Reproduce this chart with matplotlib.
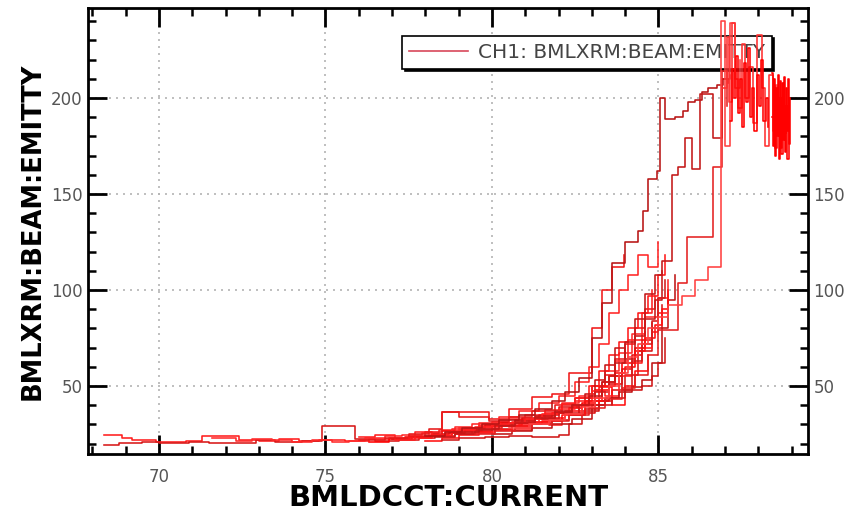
import matplotlib
matplotlib.use("Agg")
import matplotlib.pyplot as plt
from matplotlib.lines import Line2D
from matplotlib.ticker import MultipleLocator

# ---- data: emittance vs. beam current, several passes (step traces) ----
t1_x = [68.35, 68.9, 69.2, 69.9, 70.8, 71.3, 72.4, 73.0, 73.6, 74.2, 74.8, 75.6, 76.3, 76.9, 77.5,
        78.1, 78.6, 79.2, 79.7, 80.3, 80.9, 81.4, 81.9, 82.4, 82.9, 83.3, 83.7, 84.1, 84.5, 84.8]
t1_y = [24.5, 23.0, 22.0, 21.0, 21.5, 24.0, 22.0, 21.5, 22.5, 21.5, 22.0, 21.5, 22.5, 23.0, 23.5,
        24.5, 25.5, 26.5, 28.0, 29.5, 31.0, 33.0, 36.0, 39.5, 44.0, 52.0, 63.0, 74.0, 88.0, 100.0]

t2_x = [68.35, 68.8, 69.5, 70.0, 70.9, 71.5, 71.9, 72.9, 73.5, 74.3, 74.9, 75.9, 76.5, 77.2, 77.8,
        78.3, 78.9, 79.5, 80.0, 80.6, 81.2, 81.8, 82.3, 82.8, 83.2, 83.6, 84.0, 84.4, 84.8, 85.1]
t2_y = [19.5, 20.5, 21.0, 20.5, 21.0, 20.5, 20.5, 22.0, 21.0, 21.5, 29.2, 22.5, 21.5, 22.0, 23.0,
        24.0, 25.0, 26.0, 27.5, 29.0, 30.5, 32.5, 35.0, 38.0, 42.0, 48.0, 56.0, 68.0, 80.0, 92.0]

t3_x = [71.6, 72.3, 72.8, 73.4, 74.0, 74.6, 75.2, 75.7, 76.2, 76.8, 77.3, 77.9, 78.4, 78.9, 79.4,
        80.0, 80.5, 81.0, 81.6, 82.1, 82.6, 83.0, 83.4, 83.8, 84.2, 84.6, 85.0, 85.3]
t3_y = [23.0, 21.5, 22.5, 22.0, 21.0, 22.0, 21.0, 21.5, 23.0, 24.0, 24.5, 25.5, 27.0, 28.5, 30.0,
        31.5, 33.0, 35.0, 37.5, 41.0, 45.0, 50.0, 58.0, 67.0, 77.0, 86.0, 96.0, 105.0]

b1_x = [76.3, 76.9, 77.4, 78.0, 78.5, 79.1, 79.6, 80.2, 80.7, 81.3, 81.8, 82.3, 82.7, 83.1, 83.5,
        83.9, 84.3, 84.6]
b1_y = [21.0, 22.5, 23.5, 24.0, 26.5, 27.0, 29.0, 30.5, 32.5, 34.0, 36.0, 38.5, 41.0, 48.0, 55.0,
        62.0, 70.0, 78.0]

b2_x = [77.0, 77.6, 78.2, 78.7, 79.2, 79.8, 80.3, 80.9, 81.4, 82.0, 82.6, 83.1, 83.5, 83.9, 84.2,
        84.5, 84.8]
b2_y = [22.5, 23.5, 25.0, 25.5, 28.0, 29.5, 31.0, 33.5, 35.0, 39.0, 36.0, 42.0, 51.0, 59.0, 66.0,
        74.0, 83.0]

b3_x = [78.0, 78.5, 79.0, 79.6, 80.1, 80.6, 81.1, 81.7, 82.2, 82.7, 83.2, 83.6, 84.0, 84.3, 84.7]
b3_y = [21.5, 23.0, 24.5, 26.0, 27.0, 29.0, 31.5, 33.5, 37.0, 40.0, 49.5, 40.0, 50.0, 58.0, 66.0]

b4_x = [76.0, 76.5, 77.1, 77.7, 78.2, 78.8, 79.4, 80.0, 80.6, 81.2, 81.7, 82.1]
b4_y = [23.5, 24.5, 22.0, 26.0, 24.0, 27.5, 25.5, 29.0, 27.0, 31.5, 29.5, 33.0]

r1_x = [78.5, 79.0, 79.8, 80.5, 81.2, 82.0, 82.3, 82.7, 83.2, 83.6, 84.0, 84.5, 84.8, 85.0, 85.2]
r1_y = [22.0, 23.0, 23.5, 24.0, 23.5, 24.5, 30.0, 37.0, 40.0, 44.0, 48.0, 50.0, 55.0, 62.0, 75.0]

u1_x = [77.5, 78.0, 78.5, 79.9, 80.5, 81.2, 81.8, 82.3, 82.9, 83.0, 83.3, 83.6, 83.95]
u1_y = [24.0, 26.0, 36.5, 33.0, 38.0, 44.5, 46.0, 57.0, 57.0, 80.0, 100.0, 112.0, 118.0]

u2_x = [79.0, 79.6, 80.2, 80.8, 81.4, 82.0, 82.5, 82.9, 83.2, 83.5, 83.8, 84.1, 84.4, 84.7, 85.0]
u2_y = [28.0, 31.0, 34.0, 37.0, 41.0, 45.0, 52.0, 60.0, 72.0, 88.0, 100.0, 108.0, 118.0, 112.0, 125.0]

l1_x = [76.0, 76.8, 77.5, 78.1, 78.5, 79.0, 79.9, 80.5, 81.2, 81.9, 82.5, 83.0, 83.4, 83.7, 84.0,
        84.3, 84.6, 84.9]
l1_y = [22.0, 23.0, 25.0, 27.5, 36.5, 34.0, 32.0, 34.0, 37.0, 40.0, 44.0, 50.0, 56.0, 64.0, 72.0,
        80.0, 90.0, 97.0]

m1_x = [77.5, 78.2, 78.8, 79.4, 80.0, 80.6, 81.1, 81.6, 82.1, 82.5, 82.9, 83.2, 83.5, 83.8, 84.1,
        84.4, 84.7, 85.0, 85.2]
m1_y = [23.0, 24.5, 26.0, 27.0, 29.0, 31.5, 33.0, 36.0, 40.5, 44.0, 50.0, 58.0, 66.0, 73.0, 80.0,
        88.0, 97.0, 108.0, 118.0]

m2_x = [78.3, 78.9, 79.5, 80.1, 80.7, 81.3, 81.9, 82.4, 82.8, 83.1, 83.4, 83.7, 84.0, 84.3, 84.6,
        84.9, 85.1]
m2_y = [23.5, 25.0, 27.0, 29.5, 32.0, 34.5, 37.0, 40.0, 46.0, 53.0, 61.0, 70.0, 64.0, 76.0, 85.0,
        95.0, 110.0]

m3_x = [79.0, 79.5, 80.0, 80.5, 81.0, 81.5, 82.0, 82.5, 83.0, 83.4, 83.8, 84.2, 84.5, 84.8, 85.0, 85.3]
m3_y = [27.0, 28.5, 30.0, 31.0, 33.0, 35.5, 38.0, 42.0, 47.5, 45.0, 55.0, 62.0, 70.0, 78.0, 88.0, 98.0]

m4_x = [80.0, 80.6, 81.2, 81.8, 82.4, 83.0, 83.4, 83.8, 84.2, 84.5, 84.8, 85.1, 85.3, 85.5]
m4_y = [25.0, 26.5, 28.0, 30.0, 33.0, 40.0, 44.0, 47.0, 49.5, 53.0, 62.0, 80.0, 95.0, 108.0]

m5_x = [80.8, 81.5, 82.1, 82.8, 83.3, 83.7, 84.0, 84.3, 84.6, 84.9, 85.1, 85.3]
m5_y = [30.0, 32.0, 35.0, 42.0, 50.0, 57.0, 60.0, 68.0, 75.0, 82.0, 90.0, 100.0]

m6_x = [81.5, 82.0, 82.6, 83.1, 83.5, 83.9, 84.2, 84.5, 84.8, 85.0, 85.2]
m6_y = [33.0, 36.0, 40.0, 47.0, 55.0, 48.0, 63.0, 72.0, 84.0, 96.0, 105.0]

h1_x = [78.0, 78.6, 79.1, 79.7, 80.2, 80.8, 81.3, 81.8, 82.2, 82.6, 83.0, 83.3, 83.6, 84.0, 84.4,
        84.55, 84.7, 84.95, 85.05, 85.2, 85.5, 85.75, 85.9, 86.1, 86.3, 86.5, 86.75, 86.95, 87.15]
h1_y = [24.0, 26.0, 28.0, 30.0, 32.5, 35.0, 38.0, 42.0, 47.0, 54.0, 75.0, 93.0, 114.0, 125.0, 131.0,
        141.0, 158.0, 162.0, 200.0, 189.0, 190.0, 193.0, 198.0, 199.0, 203.0, 205.0, 207.0, 210.0, 212.0]

h2_x = [79.0, 79.6, 80.2, 80.7, 81.3, 81.9, 82.4, 82.9, 83.3, 83.7, 84.0, 84.3, 84.6, 84.9, 85.1,
        85.4, 85.6, 85.8, 86.0, 86.25, 86.65, 86.9, 87.1]
h2_y = [26.0, 27.5, 29.0, 31.0, 33.5, 36.5, 40.0, 45.0, 52.0, 62.0, 73.0, 85.0, 98.0, 108.0, 115.0,
        160.0, 164.0, 179.0, 163.0, 202.0, 179.0, 210.0, 208.0]

h3_x = [79.5, 80.1, 80.7, 81.2, 81.8, 82.3, 82.9, 83.4, 83.9, 84.3, 84.7, 85.0, 85.6, 85.85, 86.65,
        86.9, 87.05]
h3_y = [25.0, 26.5, 28.0, 30.0, 32.0, 35.0, 38.5, 43.0, 49.0, 56.0, 66.0, 79.0, 103.5, 127.5, 164.0,
        214.0, 196.0]

h4_x = [80.5, 81.1, 81.7, 82.2, 82.7, 83.1, 83.5, 83.8, 84.1, 84.4, 84.7, 85.0, 85.3, 85.7, 86.1,
        86.5, 86.88, 87.0, 87.15, 87.3, 87.45]
h4_y = [28.0, 30.0, 32.5, 35.5, 39.0, 44.0, 50.0, 57.0, 65.0, 72.0, 80.0, 86.0, 92.0, 97.0, 105.0,
        112.0, 240.0, 175.0, 239.0, 205.0, 220.0]

n1_x = [87.15, 87.22, 87.28, 87.33, 87.40, 87.46, 87.52, 87.58, 87.63, 87.70, 87.76, 87.82, 87.88,
        87.95, 88.02, 88.08, 88.15, 88.22, 88.30]
n1_y = [188, 215, 200, 222, 192, 210, 185, 218, 198, 226, 190, 205, 183, 212, 196, 220, 188, 200, 185]

n2_x = [88.40, 88.43, 88.46, 88.49, 88.52, 88.55, 88.58, 88.61, 88.64, 88.67, 88.70, 88.73, 88.76,
        88.79, 88.82, 88.85, 88.88, 88.91, 88.94]
n2_y = [213, 175, 210, 170, 205, 180, 212, 168, 200, 174, 208, 178, 211, 172, 196, 183, 210, 176, 200]

n3_x = [86.95, 87.05, 87.12, 87.20, 87.30, 87.38, 87.50, 87.60, 87.72, 87.85, 87.97, 88.10, 88.20,
        88.32, 88.45, 88.55]
n3_y = [205, 232, 198, 239, 210, 195, 228, 200, 216, 187, 233, 205, 175, 212, 183, 207]

n4_x = [88.42, 88.47, 88.51, 88.56, 88.60, 88.65, 88.69, 88.74, 88.78, 88.83, 88.87, 88.92]
n4_y = [190, 207, 174, 202, 185, 209, 171, 198, 182, 205, 168, 192]

traces = [
    (t1_x, t1_y, "#ff1e1e"), (t2_x, t2_y, "#d81818"), (t3_x, t3_y, "#ff2a2a"),
    (b1_x, b1_y, "#ff0000"), (b2_x, b2_y, "#e01010"), (b3_x, b3_y, "#ff1010"),
    (b4_x, b4_y, "#ff2020"), (r1_x, r1_y, "#d01818"),
    (u1_x, u1_y, "#f01a1a"), (u2_x, u2_y, "#ff2525"),
    (l1_x, l1_y, "#e81a1a"), (m1_x, m1_y, "#ff1a1a"), (m2_x, m2_y, "#c81818"),
    (m3_x, m3_y, "#ff2020"), (m4_x, m4_y, "#c01515"), (m5_x, m5_y, "#ff1010"),
    (m6_x, m6_y, "#d41a1a"),
    (h1_x, h1_y, "#b81414"), (h2_x, h2_y, "#c41818"), (h3_x, h3_y, "#e42020"),
    (h4_x, h4_y, "#ff4040"),
    (n3_x, n3_y, "#ff3030"), (n1_x, n1_y, "#ff0000"), (n2_x, n2_y, "#ff0000"),
    (n4_x, n4_y, "#ff0000"),
]

legend_label = "CH1: BMLXRM:BEAM:EMITTY"
x_label = "BMLDCCT:CURRENT"
y_label = "BMLXRM:BEAM:EMITTY"

# ---- figure ----
fig = plt.figure(figsize=(8.46, 5.13), dpi=100)
ax = fig.add_axes([88 / 846, 1 - 454 / 513, 720 / 846, 446 / 513])

for xs, ys, c in traces:
    ax.plot(xs, ys, drawstyle="steps-post", color=c, lw=1.15, zorder=3)

ax.set_xlim(67.87, 89.49)
ax.set_ylim(14.6, 246.9)

ax.xaxis.set_major_locator(MultipleLocator(5))
ax.xaxis.set_minor_locator(MultipleLocator(1))
ax.yaxis.set_major_locator(MultipleLocator(50))
ax.yaxis.set_minor_locator(MultipleLocator(10))

ax.grid(True, which="major", color="#b4b4b4", linestyle=(0, (1.2, 3)), linewidth=1.2, zorder=0)

for s in ax.spines.values():
    s.set_linewidth(2.0)
    s.set_color("black")

ax.tick_params(which="both", direction="in", top=True, right=True,
               labelright=True, color="black")
ax.tick_params(which="major", length=13.5, width=2.0, labelsize=12, labelcolor="#555555")
ax.tick_params(axis="x", which="major", pad=10)
ax.tick_params(axis="y", which="major", pad=4)
ax.tick_params(which="minor", length=5.5, width=1.8)

ax.set_xlabel(x_label, fontsize=21, fontweight="bold", family="DejaVu Sans", labelpad=-1)
ax.set_ylabel(y_label, fontsize=18.5, fontweight="bold", family="DejaVu Sans", labelpad=4)

handle = Line2D([], [], color="#d8485a", lw=1.2)
leg = ax.legend([handle], [legend_label], loc="upper right", bbox_to_anchor=(0.95, 0.937),
                borderaxespad=0, fontsize=14.5, frameon=True, fancybox=False,
                shadow={"color": "black", "alpha": 1.0, "ox": 1.5, "oy": -1.5},
                handlelength=2.9, handletextpad=0.5, borderpad=0.35, labelcolor="#444444")
leg.get_frame().set_edgecolor("black")
leg.get_frame().set_linewidth(1.2)
leg.set_zorder(2)

fig.savefig("out.png", dpi=100, facecolor="white")
